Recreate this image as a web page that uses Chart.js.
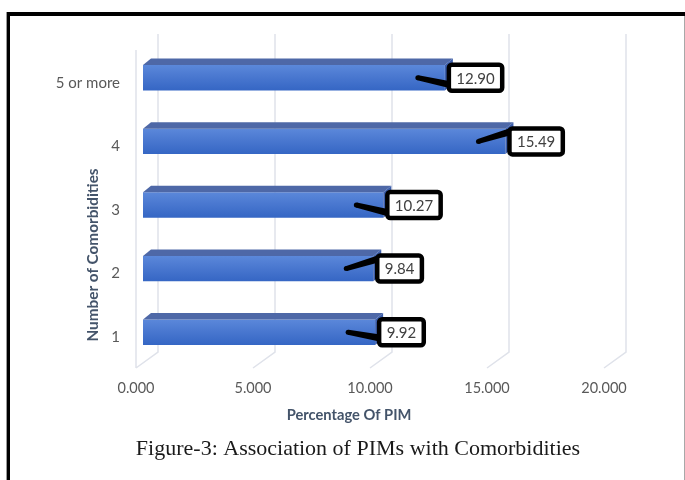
<!DOCTYPE html>
<html>
<head>
<meta charset="utf-8">
<title>Association of PIMs with Comorbidities</title>
<script src="https://cdn.jsdelivr.net/npm/chart.js@4.4.1/dist/chart.umd.min.js"></script>
<style>
  html, body { margin: 0; padding: 0; background: #ffffff; }
  #wrap { position: relative; width: 685px; height: 480px; overflow: hidden; }
  #frame {
    position: absolute; left: 7px; top: 12px; width: 700px; height: 500px;
    border-left: 3px solid #000; border-top: 4px solid #000;
    box-shadow: -1px 0 0 #9a9a9a;
  }
  #edge { position: absolute; left: 684px; top: 16px; width: 1px; height: 464px; background: #a8a8a8; }
  #chart { position: absolute; left: 0; top: 0; }
</style>
</head>
<body>
<div id="wrap">
  <div id="frame"></div>
  <div id="edge"></div>
  <canvas id="chart" width="685" height="480"></canvas>
</div>
<script>
// Number of comorbidities (bottom to top) and share of PIM for each group
const categories = ['1', '2', '3', '4', '5 or more'];
const pimPercent = [9.92, 9.84, 10.27, 15.49, 12.90];
const xTicks = [0, 5, 10, 15, 20];

const xTitle = 'Percentage Of PIM';
const yTitle = 'Number of Comorbidities';
const caption = 'Figure-3: Association of PIMs with Comorbidities';

// callout leader tilt (px) where the leader meets the label box
const leaderTilt = [6, -10, 8, -10, 7];

const DEPTH_X = 8, DEPTH_Y = 6.5;   // bar bevel
const FONT = 'Lato, "Open Sans", sans-serif';

function frontGradient(c) {
  const chart = c.chart;
  const ys = chart.scales && chart.scales.y;
  if (!ys || !chart.chartArea) return '#4a78d0';
  const cy = ys.getPixelForValue(c.dataIndex);
  const band = (ys.bottom - ys.top) / categories.length;
  const h = band * 0.4;
  const g = chart.ctx.createLinearGradient(0, cy - h / 2, 0, cy + h / 2);
  g.addColorStop(0, '#5b88da');
  g.addColorStop(0.45, '#4a78d0');
  g.addColorStop(1, '#3566c4');
  return g;
}

const wallsPlugin = {
  id: 'walls3d',
  beforeDatasetsDraw(chart) {
    const { ctx, chartArea: a } = chart;
    const xs = chart.scales.x;
    ctx.save();
    ctx.strokeStyle = '#dfe2ea';
    ctx.lineWidth = 1.5;
    ctx.beginPath();
    xTicks.forEach(v => {
      const px = xs.getPixelForValue(v);
      ctx.moveTo(px + 15, a.top - 12);
      ctx.lineTo(px + 15, a.bottom - 12);
      ctx.lineTo(px - 7, a.bottom + 4);
    });
    ctx.moveTo(a.left - 7, a.top + 4);
    ctx.lineTo(a.left - 7, a.bottom + 4);
    ctx.stroke();
    ctx.restore();
  }
};

const barFacesPlugin = {
  id: 'barFaces',
  afterDatasetsDraw(chart) {
    const { ctx } = chart;
    const meta = chart.getDatasetMeta(0);
    ctx.save();
    meta.data.forEach(el => {
      const top = el.y - el.height / 2, bot = el.y + el.height / 2;
      // top face
      ctx.fillStyle = '#4e68a7';
      ctx.beginPath();
      ctx.moveTo(el.base, top);
      ctx.lineTo(el.base + DEPTH_X, top - DEPTH_Y);
      ctx.lineTo(el.x + DEPTH_X, top - DEPTH_Y);
      ctx.lineTo(el.x, top);
      ctx.closePath();
      ctx.fill();
      // end face
      ctx.fillStyle = '#3c5eab';
      ctx.beginPath();
      ctx.moveTo(el.x, top);
      ctx.lineTo(el.x + DEPTH_X, top - DEPTH_Y);
      ctx.lineTo(el.x + DEPTH_X, bot - DEPTH_Y);
      ctx.lineTo(el.x, bot);
      ctx.closePath();
      ctx.fill();
    });
    ctx.restore();
  }
};

const calloutPlugin = {
  id: 'callouts',
  afterDatasetsDraw(chart) {
    const { ctx } = chart;
    const meta = chart.getDatasetMeta(0);
    ctx.save();
    ctx.font = '15px ' + FONT;
    meta.data.forEach((el, i) => {
      const text = pimPercent[i].toFixed(2);
      const tw = ctx.measureText(text).width;
      const w = tw + 15, h = 26;
      const bx = el.x + 4, by = el.y - h / 2;
      // leader
      const tipX = bx - 31, tipY = el.y;
      const endX = bx + 2, endY = el.y + leaderTilt[i];
      const ang = Math.atan2(endY - tipY, endX - tipX);
      const nx = -Math.sin(ang), ny = Math.cos(ang);
      ctx.fillStyle = '#000';
      ctx.beginPath();
      ctx.moveTo(tipX + nx * 2.5, tipY + ny * 2.5);
      ctx.lineTo(endX + nx * 3.5, endY + ny * 3.5);
      ctx.lineTo(endX - nx * 3.5, endY - ny * 3.5);
      ctx.lineTo(tipX - nx * 2.5, tipY - ny * 2.5);
      ctx.closePath();
      ctx.fill();
      ctx.beginPath();
      ctx.arc(tipX, tipY, 2.5, 0, Math.PI * 2);
      ctx.fill();
      // box
      ctx.beginPath();
      ctx.roundRect(bx, by, w, h, 3);
      ctx.fillStyle = '#ffffff';
      ctx.fill();
      ctx.lineWidth = 4.5;
      ctx.strokeStyle = '#000';
      ctx.stroke();
      ctx.fillStyle = '#404040';
      ctx.textAlign = 'center';
      ctx.textBaseline = 'middle';
      ctx.fillText(text, bx + w / 2, el.y + 1);
    });
    ctx.restore();
  }
};

const textPlugin = {
  id: 'titles',
  afterDraw(chart) {
    const { ctx } = chart;
    ctx.save();
    ctx.fillStyle = '#44546a';
    ctx.textAlign = 'center';
    ctx.textBaseline = 'middle';
    ctx.font = 'bold 14.7px ' + FONT;
    ctx.fillText(xTitle, 349, 415);
    ctx.translate(93, 255);
    ctx.rotate(-Math.PI / 2);
    ctx.font = 'bold 15.3px ' + FONT;
    ctx.fillText(yTitle, 0, 0);
    ctx.restore();
    ctx.save();
    ctx.fillStyle = '#1a1a1a';
    ctx.textAlign = 'center';
    ctx.textBaseline = 'middle';
    ctx.font = '22px "Liberation Serif", "Times New Roman", serif';
    ctx.fillText(caption, 358, 449);
    ctx.restore();
  }
};

new Chart(document.getElementById('chart'), {
  type: 'bar',
  data: {
    labels: categories,
    datasets: [{
      data: pimPercent,
      backgroundColor: frontGradient,
      borderWidth: 0,
      barPercentage: 0.4,
      categoryPercentage: 1
    }]
  },
  plugins: [wallsPlugin, barFacesPlugin, calloutPlugin, textPlugin],
  options: {
    indexAxis: 'y',
    responsive: false,
    animation: false,
    devicePixelRatio: 1,
    layout: { padding: { top: 46, right: 74, left: 0, bottom: 0 } },
    plugins: { legend: { display: false }, tooltip: { enabled: false }, title: { display: false } },
    scales: {
      x: {
        min: 0, max: 20,
        afterBuildTicks: s => { s.ticks = xTicks.map(v => ({ value: v })); },
        afterFit: s => { s.height = 116; },
        ticks: {
          callback: v => Number(v).toFixed(3),
          labelOffset: -7, padding: 16, maxRotation: 0,
          color: '#595959', font: { family: FONT, size: 14.5 }
        },
        grid: { display: false, drawTicks: false },
        border: { display: false }
      },
      y: {
        reverse: true,
        afterFit: s => { s.width = 143; },
        ticks: {
          padding: 23, labelOffset: 5,
          color: '#595959', font: { family: FONT, size: 15 }
        },
        grid: { display: false, drawTicks: false },
        border: { display: false }
      }
    }
  }
});
</script>
</body>
</html>
